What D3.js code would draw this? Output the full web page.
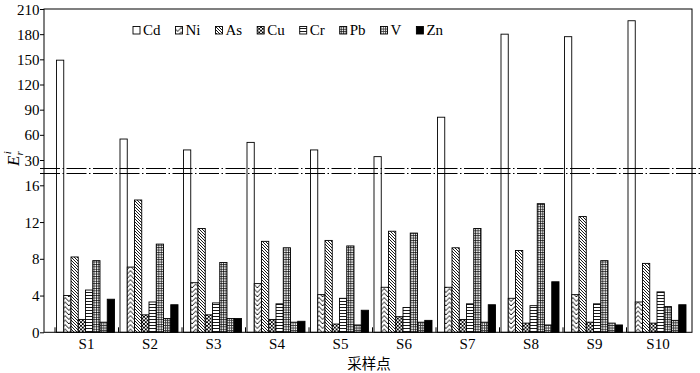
<!DOCTYPE html>
<html>
<head>
<meta charset="utf-8">
<script src="https://cdn.jsdelivr.net/npm/d3@7"></script>
<style>
  body { margin: 0; background: #fff; }
  svg { display: block; }
  text { font-family: "Liberation Serif", "Times New Roman", serif; fill: #000; }
</style>
</head>
<body>
<script>
"use strict";
// sampling sites and metals
const sites = ['S1', 'S2', 'S3', 'S4', 'S5', 'S6', 'S7', 'S8', 'S9', 'S10'];
const metals = ['Cd', 'Ni', 'As', 'Cu', 'Cr', 'Pb', 'V', 'Zn'];
// potential ecological risk index per metal
const cd = [149, 55, 42, 51, 42, 34, 81, 180, 177, 196];
const ni = [4.0, 7.1, 5.4, 5.3, 4.1, 4.9, 4.9, 3.7, 4.1, 3.3];
const as = [8.2, 14.4, 11.3, 9.9, 10.0, 11.0, 9.2, 8.9, 12.6, 7.5];
const cu = [1.4, 1.9, 1.9, 1.4, 0.9, 1.7, 1.4, 1.0, 1.1, 1.0];
const cr = [4.6, 3.3, 3.2, 3.1, 3.7, 2.7, 3.1, 2.9, 3.1, 4.4];
const pb = [7.8, 9.6, 7.6, 9.2, 9.4, 10.8, 11.3, 14.0, 7.8, 2.8];
const v  = [1.1, 1.5, 1.5, 1.1, 0.8, 1.1, 1.1, 0.8, 1.0, 1.3];
const zn = [3.6, 3.0, 1.5, 1.2, 2.4, 1.3, 3.0, 5.5, 0.8, 3.0];
const upperTicks = [30, 60, 90, 120, 150, 180, 210];
const lowerTicks = [0, 4, 8, 12, 16];

const series = [cd, ni, as, cu, cr, pb, v, zn];

let svg = d3.select("body").append("svg")
    .attr("width", 700)
    .attr("height", 373);

let pLeft = 44, pRight = 692, pTop = 9, base = 332.3;

let x = d3.scaleBand().domain(sites).range([55, 690]);
let x1 = d3.scaleBand().domain(metals).range([1.5, 59.5]);
let yU = d3.scaleLinear().domain([30, 210]).range([160, pTop]);
let yL = d3.scaleLinear().domain([0, 16]).range([base, 185.3]);
let yv = (d) => d > 16 ? yU(d) : yL(d);

// fill patterns
let defs = svg.append("defs");
function pat(id, w, h, draw) {
    let p = defs.append("pattern").attr("id", id)
        .attr("patternUnits", "userSpaceOnUse")
        .attr("width", w).attr("height", h);
    p.append("rect").attr("width", w).attr("height", h).attr("fill", "#fff");
    draw(p);
}
pat("p-ni", 7.25, 4.5, p => p.append("path")
    .attr("d", "M-0.5,0 L3.6,4.5 M3.6,4.5 L7.75,0 M-0.5,4.5 L0,5 M7.25,5 L7.75,4.5")
    .attr("stroke", "#000").attr("stroke-width", 0.9).attr("fill", "none"));
pat("p-as", 3, 3, p => p.append("path")
    .attr("d", "M-1,-1 L4,4 M-1,2 L1,4 M2,-1 L4,1")
    .attr("stroke", "#000").attr("stroke-width", 0.9));
pat("p-cu", 3.6, 3.6, p => p.append("path")
    .attr("d", "M0,0 L3.6,3.6 M3.6,0 L0,3.6")
    .attr("stroke", "#000").attr("stroke-width", 0.9));
pat("p-cr", 4, 3, p => p.append("path")
    .attr("d", "M0,1.5 H4")
    .attr("stroke", "#000").attr("stroke-width", 0.9));
pat("p-pb", 2.4, 2.4, p => p.append("path")
    .attr("d", "M0,0.5 H2.4 M0.5,0 V2.4")
    .attr("stroke", "#000").attr("stroke-width", 0.7));
pat("p-v", 2.2, 2.6, p => p.append("path")
    .attr("d", "M0,0.5 H2.2 M0.5,0 V2.6")
    .attr("stroke", "#333").attr("stroke-width", 0.9));

let fills = {
    Cd: "#fff", Ni: "url(#p-ni)", As: "url(#p-as)", Cu: "url(#p-cu)",
    Cr: "url(#p-cr)", Pb: "url(#p-pb)", V: "url(#p-v)", Zn: "#000"
};

// bars
let rows = [];
sites.forEach((s, i) => metals.forEach((m, j) => rows.push({ site: s, metal: m, value: series[j][i] })));

svg.append("g").selectAll("rect")
    .data(rows)
    .enter()
    .append("rect")
    .attr("x", d => x(d.site) + x1(d.metal))
    .attr("width", x1.bandwidth())
    .attr("y", d => yv(d.value))
    .attr("height", d => base - yv(d.value))
    .attr("fill", d => fills[d.metal])
    .attr("stroke", "#000")
    .attr("stroke-width", 0.9);

// frame
svg.append("rect")
    .attr("x", pLeft).attr("y", pTop)
    .attr("width", pRight - pLeft).attr("height", base - pTop)
    .attr("fill", "none").attr("stroke", "#000").attr("stroke-width", 1);

// y axes (upper and lower parts)
let axU = svg.append("g").attr("transform", `translate(${pLeft},0)`)
    .call(d3.axisLeft(yU).tickValues(upperTicks).tickSize(4).tickSizeOuter(0));
let axL = svg.append("g").attr("transform", `translate(${pLeft},0)`)
    .call(d3.axisLeft(yL).tickValues(lowerTicks).tickSize(4).tickSizeOuter(0));
[axU, axL].forEach(a => {
    a.select(".domain").remove();
    a.selectAll("text").attr("font-size", 15)
        .attr("font-family", "Liberation Serif, serif").attr("x", -4.5).attr("dy", "0.34em");
});

// x axis: inward ticks at band boundaries and labels
svg.append("g").selectAll("line")
    .data(sites)
    .enter()
    .append("line")
    .attr("x1", d => x(d)).attr("x2", d => x(d))
    .attr("y1", base).attr("y2", base - 5)
    .attr("stroke", "#000");
svg.append("g").selectAll("text")
    .data(sites)
    .enter()
    .append("text")
    .attr("x", d => x(d) + x1.range()[0] + 30)
    .attr("y", 348.5)
    .attr("text-anchor", "middle")
    .attr("font-size", 15)
    .text(d => d);

// axis break lines
[168.5, 173.5].forEach(yy => {
    svg.append("line")
        .attr("x1", 40).attr("x2", 700)
        .attr("y1", yy).attr("y2", yy)
        .attr("stroke", "#000").attr("stroke-width", 1)
        .attr("stroke-dasharray", "20,2.5,1.5,2.5");
});

// axis titles
svg.append("text")
    .attr("x", 369).attr("y", 369)
    .attr("text-anchor", "middle")
    .attr("font-size", 14.5)
    .style("font-family", "'Noto Sans CJK SC', sans-serif")
    .text("采样点");

let yt = svg.append("text")
    .attr("transform", "translate(19,166) rotate(-90)")
    .attr("font-size", 17)
    .attr("font-style", "italic");
yt.append("tspan").text("E");
yt.append("tspan").attr("font-size", 11).attr("dy", 4).text("r");
yt.append("tspan").attr("font-size", 11).attr("dy", -12).attr("dx", -3).text("i");

// legend
let lx = 133;
metals.forEach(m => {
    let g = svg.append("g");
    g.append("rect")
        .attr("x", lx).attr("y", 26.5)
        .attr("width", 7).attr("height", 7.5)
        .attr("fill", fills[m]).attr("stroke", "#000").attr("stroke-width", 0.9);
    let t = g.append("text")
        .attr("x", lx + 10).attr("y", 34.5)
        .attr("font-size", 15)
        .text(m);
    lx += 10 + t.node().getComputedTextLength() + 15;
});
</script>
</body>
</html>
